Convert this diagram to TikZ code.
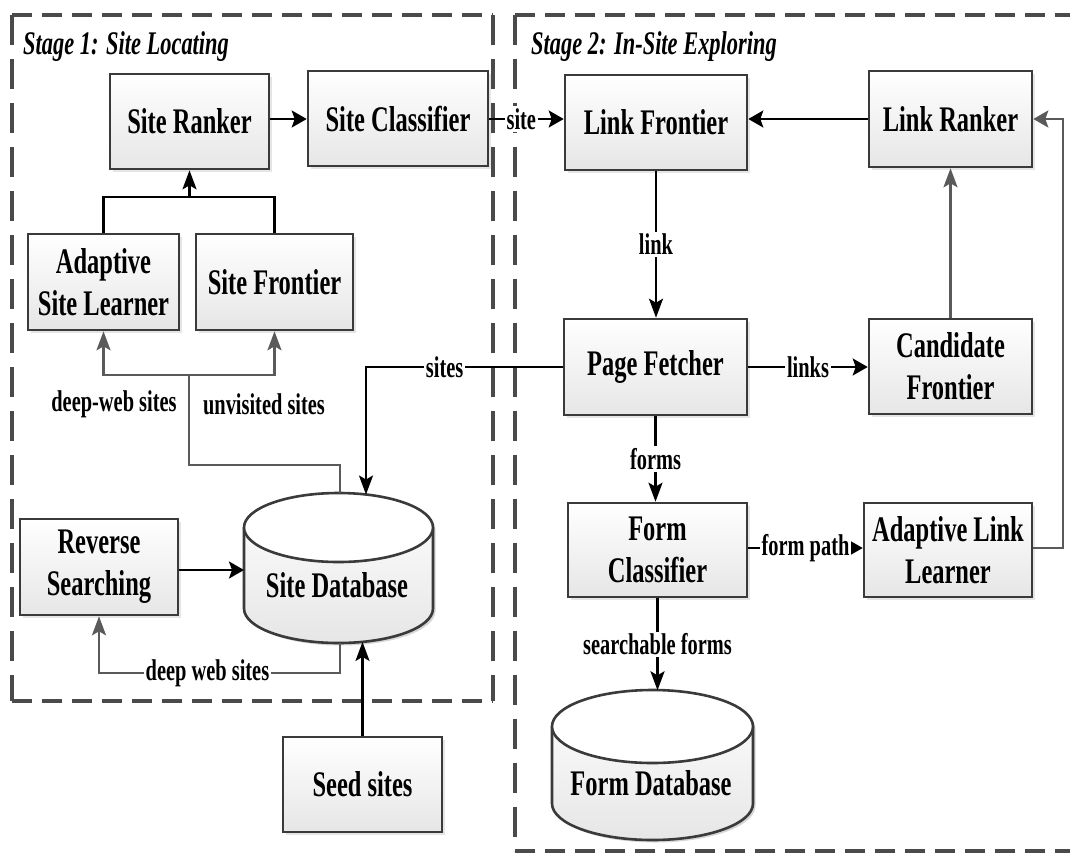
\documentclass[tikz,border=0pt]{standalone}
\usepackage{fontspec}
\setmainfont{Liberation Serif}[FakeStretch=0.68]
\usetikzlibrary{arrows.meta,shadows}
\definecolor{framec}{HTML}{4A4A4A}
\definecolor{boxline}{HTML}{3A3A3A}
\definecolor{garrow}{HTML}{5A5A5A}
\definecolor{boxbot}{HTML}{E6E6E6}
\begin{document}
\begin{tikzpicture}[x=1pt,y=-1pt,
  blk/.style={draw=boxline, line width=2.6pt, top color=white, bottom color=boxbot,
    drop shadow={shadow xshift=2.5pt, shadow yshift=-2.5pt, opacity=0.2},
    align=center, inner sep=0pt, font=\fontsize{36}{42}\selectfont\bfseries},
  dbtext/.style={inner sep=0pt, font=\fontsize{36}{42}\selectfont\bfseries},
  lbl/.style={fill=white, inner sep=2pt, font=\fontsize{30}{32}\selectfont\bfseries},
  plainlbl/.style={inner sep=0pt, font=\fontsize{30}{32}\selectfont\bfseries},
  stagelbl/.style={inner sep=0pt, anchor=west, font=\fontsize{33}{35}\selectfont\bfseries\itshape},
  conn/.style={draw=black, line width=2.4pt},
  gconn/.style={draw=garrow, line width=2.4pt},
  harrow/.style={-{Stealth[length=15pt,width=17pt,inset=3pt]}},
  varrow/.style={-{Stealth[length=19pt,width=14pt,inset=4pt]}},
  hdash/.style={draw=framec, line width=4.6pt, dash pattern=on 20pt off 10pt},
  vdash/.style={draw=framec, line width=3.4pt, dash pattern=on 30pt off 14pt},
  cylfill/.style={top color=white, bottom color=boxbot},
  cylline/.style={draw=boxline, line width=2.6pt},
]
\fill[white] (0,0) rectangle (1070,854);
\useasboundingbox (0,0) rectangle (1070,854);

% stage frames
\draw[hdash] (12,15) -- (493,15);
\draw[vdash] (493,15) -- (493,701);
\draw[hdash] (12,701) -- (493,701);
\draw[vdash] (12,15) -- (12,701);
\draw[hdash] (515,15) -- (1085,15);
\draw[hdash] (515,851) -- (1085,851);
\draw[vdash] (515,15) -- (515,851);

\node[stagelbl] (st1) at (23,47) {Stage 1: Site Locating};
\node[stagelbl] (st2) at (531,47) {Stage 2: In-Site Exploring};

% cylinders
\fill[black, opacity=0.16] (246.5,530) -- (246.5,611) arc[start angle=180, end angle=0, x radius=94.5, y radius=34.5] -- (435.5,530) arc[start angle=0, end angle=-180, x radius=94.5, y radius=34.5] -- cycle;
\path[cylfill] (244,527.5) -- (244,608.5) arc[start angle=180, end angle=0, x radius=94.5, y radius=34.5] -- (433,527.5) arc[start angle=0, end angle=-180, x radius=94.5, y radius=34.5] -- cycle;
\draw[cylline] (244,527.5) -- (244,608.5) arc[start angle=180, end angle=0, x radius=94.5, y radius=34.5] -- (433,527.5);
\draw[cylline, fill=white] (338.5,527.5) ellipse[x radius=94.5, y radius=34.5];

\fill[black, opacity=0.16] (554.5,729) -- (554.5,806) arc[start angle=180, end angle=0, x radius=100.5, y radius=36.5] -- (755.5,729) arc[start angle=0, end angle=-180, x radius=100.5, y radius=36.5] -- cycle;
\path[cylfill] (552,726.5) -- (552,803.5) arc[start angle=180, end angle=0, x radius=100.5, y radius=36.5] -- (753,726.5) arc[start angle=0, end angle=-180, x radius=100.5, y radius=36.5] -- cycle;
\draw[cylline] (552,726.5) -- (552,803.5) arc[start angle=180, end angle=0, x radius=100.5, y radius=36.5] -- (753,726.5);
\draw[cylline, fill=white] (652.5,726.5) ellipse[x radius=100.5, y radius=36.5];

\node[dbtext] (sdb) at (337,585) {Site Database};
\node[dbtext] (fdb) at (651,783) {Form Database};

% cylinder contact points
\coordinate (sdbL) at (244,570);
\coordinate (sdbin) at (366,494.5);
\coordinate (sdbtop) at (340,493.2);
\coordinate (sdbbot) at (340,643);
\coordinate (sdbseed) at (362.5,641.9);
\coordinate (fdbtop) at (657.5,690.3);

% boxes
\node[blk, minimum width=159, minimum height=95] (sr) at (189.5,121.5) {Site Ranker};
\node[blk, minimum width=180, minimum height=95] (sc) at (398,118.5) {Site Classifier};
\node[blk, minimum width=182, minimum height=95] (lf) at (656,122.5) {Link Frontier};
\node[blk, minimum width=163, minimum height=96] (lr) at (950.5,119) {Link Ranker};
\node[blk, minimum width=151, minimum height=96] (asl) at (103.5,282) {Adaptive\\Site Learner};
\node[blk, minimum width=157, minimum height=96] (sf) at (274.5,282) {Site Frontier};
\node[blk, minimum width=183, minimum height=96] (pf) at (655.5,367) {Page Fetcher};
\node[blk, minimum width=163, minimum height=95] (cf) at (950.5,366.5) {Candidate\\Frontier};
\node[blk, minimum width=179, minimum height=94] (fc) at (657.5,550) {Form\\Classifier};
\node[blk, minimum width=168, minimum height=94] (all) at (948,550) {Adaptive Link\\Learner};
\node[blk, minimum width=158, minimum height=96] (rs) at (99,567) {Reverse\\Searching};
\node[blk, minimum width=159, minimum height=95] (seed) at (362.5,784.5) {Seed sites};

% helper coordinates
\coordinate (bj) at (190,197);
\coordinate (gj) at (189,375);
\coordinate (gb) at (189,465);
\coordinate (dj) at (340,673);
\coordinate (rt) at (1063,548);

% connectors
\draw[conn, harrow] (sr.east |- 0,119) -- (sc.west |- 0,119);
\draw[conn, harrow] (sc.east |- 0,119) -- node[lbl, pos=0.43] {site} (lf.west |- 0,119);
\draw[conn, harrow] (lr.west) -- (lr.west -| lf.east);
\draw[conn, varrow] (lf.south) -- node[lbl] {link} (lf.south |- pf.north);
\draw[conn, harrow] (pf.east) -- node[lbl] {links} (pf.east -| cf.west);
\draw[gconn, varrow] (cf.north) -- (cf.north |- lr.south);
\draw[conn, varrow] (pf.south) -- node[lbl] {forms} (pf.south |- fc.north);
\draw[conn, harrow] (fc.east |- rt) -- node[lbl] {form path} (all.west |- rt);
\draw[gconn, harrow] (all.east |- rt) -- (rt) -- (rt |- lr.east) -- (lr.east);
\draw[conn, varrow] (fc.south) -- node[lbl] {searchable forms} (fdbtop);
\draw[conn, varrow] (pf.west) -- node[lbl, pos=0.6] {sites} (pf.west -| sdbin) -- (sdbin);

\draw[gconn] (sdbtop) -- (sdbtop |- gb) -- (gb) -- (gj);
\draw[gconn, varrow] (gj) -| (asl.south);
\draw[gconn, varrow] (gj) -| (sf.south);
\node[plainlbl] (lbl1) at (114,404) {deep-web sites};
\node[plainlbl] (lbl2) at (264,404) {unvisited sites};

\draw[conn] (asl.north) -- (asl.north |- bj) -- (sf.north |- bj) -- (sf.north);
\draw[conn, varrow] (sr.south |- bj) -- (sr.south);

\draw[conn, harrow] (rs.east |- sdbL) -- (sdbL);
\draw[gconn, varrow] (sdbbot) -- (dj) -- node[lbl, pos=0.55] {deep web sites} (dj -| rs.south) -- (rs.south);
\draw[conn, varrow] (seed.north) -- (sdbseed);
\end{tikzpicture}
\end{document}
